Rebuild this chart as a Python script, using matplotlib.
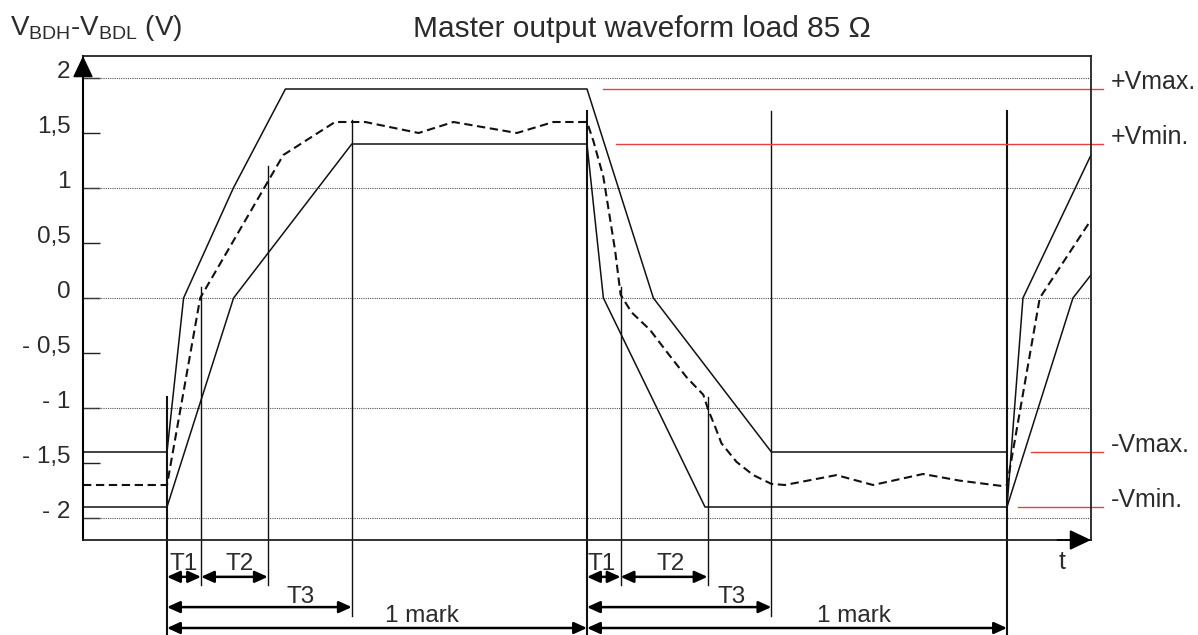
import matplotlib.pyplot as plt

plt.rcParams['font.family'] = ['Liberation Sans', 'DejaVu Sans']
plt.rcParams['mathtext.fontset'] = 'custom'
plt.rcParams['mathtext.rm'] = 'Liberation Sans'
plt.rcParams['mathtext.it'] = 'Liberation Sans:italic'

# time in % of one mark (0 = first edge), voltage in V
t_max = [-20, 0, 3.95, 15.8, 28.2, 100, 115.8, 143.9, 200, 200, 203.8, 220]
v_max = [-1.4, -1.4, 0, 1.0, 1.9, 1.9, 0, -1.4, -1.4, -1.9, 0, 1.3]

t_min = [-20, 0, 15.85, 44.0, 100, 103.9, 128.1, 200, 215.7, 220]
v_min = [-1.9, -1.9, 0, 1.4, 1.4, 0, -1.9, -1.9, 0, 0.21]

t_typ = [-20, 0, 7.9, 27.7, 40.0, 47.2, 59.9, 68.2, 83.3, 92.0, 100,
         101.5, 103.9, 106.7, 108.0, 110.6, 115.0, 119.0, 123.7, 127.7,
         128.9, 130.5, 132.0, 135.6, 139.6, 143.9, 147.1, 159.4, 168.1,
         180.0, 188.7, 199.0, 200, 207.8, 220]
v_typ = [-1.7, -1.7, 0, 1.3, 1.6, 1.6, 1.5, 1.6, 1.5, 1.6, 1.6,
         1.43, 1.1, 0.43, 0.03, -0.13, -0.29, -0.49, -0.72, -0.88,
         -1.02, -1.17, -1.32, -1.49, -1.61, -1.69, -1.70, -1.61, -1.70,
         -1.60, -1.66, -1.71, -1.7, 0.0, 0.71]

y_ticks = [2, 1.5, 1, 0.5, 0, -0.5, -1, -1.5, -2]
y_labels = ['2', '1,5', '1', '0,5', '0', '- 0,5', '- 1', '- 1,5', '- 2']
grid_v = [2, 1, 0, -1, -2]

# vertical timing markers
mark_t = [0, 8.1, 24.0, 44.0, 100, 108, 128.7, 143.9, 200]
mark_top = [-0.9, 0.1, 1.2, 1.62, 1.7, 0.1, -0.9, 1.7, 1.7]
mark_bot = [-3.07, -2.61, -2.61, -2.89, -3.07, -2.61, -2.61, -2.89, -3.07]

# dimension arrows below the axis
span_lbl = ['T1', 'T2', 'T3', '1 mark', 'T1', 'T2', 'T3', '1 mark']
span_t0 = [0, 8.1, 0, 0, 100, 108, 100, 100]
span_t1 = [8.1, 24.0, 44.0, 100, 108, 128.7, 143.9, 200]
span_v = [-2.535, -2.535, -2.81, -3.0, -2.535, -2.535, -2.81, -3.0]
lbl_t = [3.95, 17.4, 31.7, 60.7, 103.5, 119.8, 134.4, 163.5]
lbl_v = [-2.47, -2.47, -2.77, -2.95, -2.47, -2.47, -2.77, -2.95]

# limit lines on the right
lim_lbl = ['+Vmax.', '+Vmin.', '-Vmax.', '-Vmin.']
lim_v = [1.9, 1.4, -1.4, -1.9]
lim_t0 = [103.9, 106.8, 205.6, 202.5]
lim_t1 = 222.8

xmin, xmax = -20, 220
ymin, ymax = -2.2, 2.2
txt = '#2b2b2b'

fig = plt.figure(figsize=(11.98, 6.35), dpi=100)
ax = fig.add_axes([83 / 1198, 95 / 635, 1008 / 1198, 484 / 635])
ax.set_xlim(xmin, xmax)
ax.set_ylim(ymin, ymax)
ax.set_xticks([])
ax.set_yticks(y_ticks)
ax.tick_params(axis='y', direction='in', length=12.5, width=1.0,
               labelleft=False, color='#222')
for s in ax.spines.values():
    s.set_linewidth(1.3)
    s.set_color('#222')
ax.spines['left'].set_color('k')
ax.spines['left'].set_linewidth(1.5)

ax.hlines(grid_v, xmin, xmax, colors='#555', linestyles=(0, (1, 1)), lw=0.8)

for v, s in zip(y_ticks, y_labels):
    ax.annotate(s, xy=(0, v), xycoords=('axes fraction', 'data'),
                xytext=(-9.0, 4.5), textcoords='offset points',
                ha='right', va='center', fontsize=17.5, color=txt)

# waveforms
ax.plot(t_max, v_max, color='#111', lw=1.1)
ax.plot(t_min, v_min, color='#111', lw=1.1)
ax.plot(t_typ, v_typ, color='#111', lw=1.5, dashes=(4, 2.2))

# timing markers
for t, a, b in zip(mark_t, mark_top, mark_bot):
    lw = 1.5 if t in (0, 100, 200) else 1.0
    ax.plot([t, t], [a, b], color='#111', lw=lw, clip_on=False)

for lb, a, b, v, tl, vl in zip(span_lbl, span_t0, span_t1, span_v, lbl_t, lbl_v):
    ax.annotate('', xy=(b, v), xytext=(a, v),
                arrowprops=dict(arrowstyle='<|-|>,head_length=0.55,head_width=0.25',
                                mutation_scale=14, lw=1.8, color='k',
                                shrinkA=0, shrinkB=0),
                annotation_clip=False)
    ax.text(tl, vl, lb, ha='center', va='baseline', fontsize=17.5, color=txt,
            clip_on=False)

# limit lines
for lb, v, a in zip(lim_lbl, lim_v, lim_t0):
    ax.plot([a, lim_t1], [v, v], color='#e8403f', lw=1.0, clip_on=False)
    ax.text(224.8, v, lb, ha='left', va='baseline', fontsize=18, color=txt,
            clip_on=False)

# axis arrows
ax.annotate('', xy=(xmin, ymax), xytext=(xmin, ymax - 0.3),
            arrowprops=dict(arrowstyle='-|>,head_length=0.95,head_width=0.45',
                            mutation_scale=14, lw=1.2, color='k',
                            shrinkA=0, shrinkB=0),
            annotation_clip=False)
ax.annotate('', xy=(xmax, ymin), xytext=(xmax - 8, ymin),
            arrowprops=dict(arrowstyle='-|>,head_length=0.95,head_width=0.45',
                            mutation_scale=14, lw=1.2, color='k',
                            shrinkA=0, shrinkB=0),
            annotation_clip=False)
ax.text(213, -2.46, 't', ha='center', va='baseline', fontsize=18, color=txt,
        clip_on=False)

fig.text(10 / 1198, 1 - 35 / 635, r'V$_{\mathrm{BDH}}$-V$_{\mathrm{BDL}}$ (V)',
         ha='left', va='baseline', fontsize=20, color=txt)
fig.text(642 / 1198, 1 - 37 / 635, 'Master output waveform load 85 \u03a9',
         ha='center', va='baseline', fontsize=21.5, color=txt)

fig.savefig('out.png', dpi=100)
